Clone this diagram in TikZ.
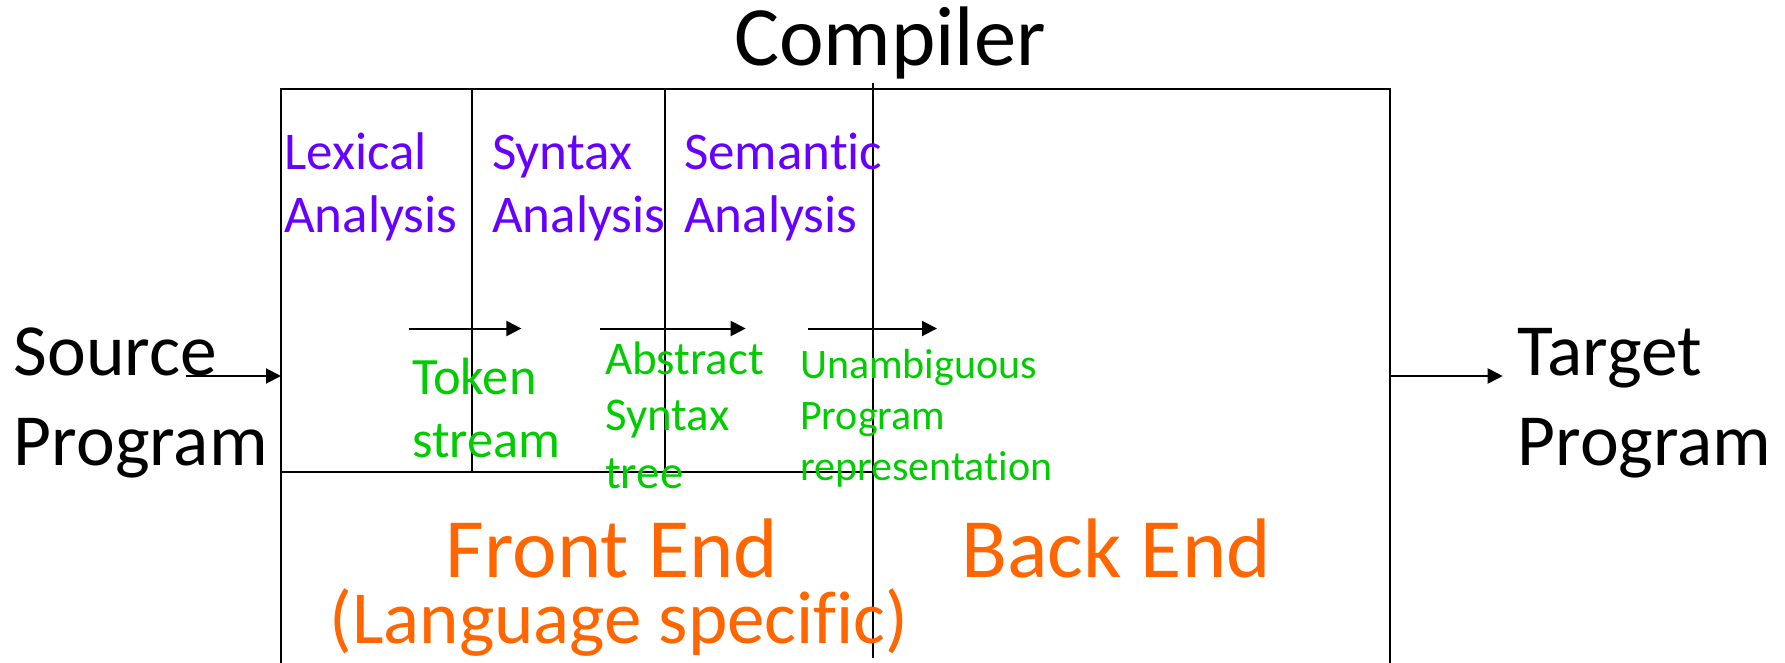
\documentclass[tikz,border=0pt]{standalone}
\usepackage{fontspec}
\setmainfont{Carlito}[RawFeature={-liga}]
\usetikzlibrary{arrows.meta}
\definecolor{phase}{RGB}{102,0,255}
\definecolor{inter}{RGB}{0,204,0}
\definecolor{endc}{RGB}{255,102,0}
\newcommand{\fsz}[1]{\fontsize{#1}{#1}\selectfont}
\tikzset{
  txt/.style={inner sep=0pt, anchor=base west},
  ctxt/.style={inner sep=0pt, anchor=base},
  boxline/.style={line width=2pt, black},
  flow/.style={line width=2pt, -{Triangle[length=15pt,width=15pt]}},
}
\begin{document}
\begin{tikzpicture}[x=1pt,y=-1pt]
\useasboundingbox (0,0) rectangle (1785,663);
% frame
\draw[boxline] (281,663) -- (281,88.8) -- (1390,88.8) -- (1390,663);
\draw[boxline] (472.4,88.8) -- (472.4,472);
\draw[boxline] (664.8,88.8) -- (664.8,472);
\draw[boxline] (872.8,83) -- (872.8,658);
\draw[boxline] (281,472) -- (872.8,472);
% title
\node[ctxt, font=\fsz{84.5}] (title) at (890,65.5) {Compiler};
% phases
\node[txt, font=\fsz{53}, text=phase] (lex1) at (284,170) {Lexical};
\node[txt, font=\fsz{53}, text=phase] (lex2) at (284,233) {Analysis};
\node[txt, font=\fsz{53}, text=phase] (syn1) at (492,170) {Syntax};
\node[txt, font=\fsz{53}, text=phase] (syn2) at (492,233) {Analysis};
\node[txt, font=\fsz{53}, text=phase] (sem1) at (684,170) {Semantic};
\node[txt, font=\fsz{53}, text=phase] (sem2) at (684,233) {Analysis};
% intermediate arrows
\coordinate (a1s) at (408.7,328.5); \coordinate (a1e) at (521.4,328.5);
\coordinate (a2s) at (600,328.5);   \coordinate (a2e) at (745.7,328.5);
\coordinate (a3s) at (808,328.5);   \coordinate (a3e) at (937,328.5);
\draw[flow] (a1s) -- (a1e);
\draw[flow] (a2s) -- (a2e);
\draw[flow] (a3s) -- (a3e);
% intermediate labels
\node[txt, font=\fsz{52.5}, text=inter] (tok1) at (412,394) {Token};
\node[txt, font=\fsz{52.5}, text=inter] (tok2) at (412,457.5) {stream};
\node[txt, font=\fsz{47}, text=inter] (ast1) at (605,374) {Abstract};
\node[txt, font=\fsz{47}, text=inter] (ast2) at (605,430) {Syntax};
\node[txt, font=\fsz{47}, text=inter] (ast3) at (605,488) {tree};
\node[txt, font=\fsz{42}, text=inter] (upr1) at (800,378) {Unambiguous};
\node[txt, font=\fsz{42}, text=inter] (upr2) at (800,429) {Program};
\node[txt, font=\fsz{42}, text=inter] (upr3) at (800,480) {representation};
% ends
\node[ctxt, font=\fsz{84.5}, text=endc] (fe) at (612,577) {Front End};
\node[ctxt, font=\fsz{75}, text=endc] (ls) at (619,643) {(Language specific)};
\node[ctxt, font=\fsz{84.5}, text=endc] (be) at (1116,577) {Back End};
% source / target
\node[txt, font=\fsz{73.5}] (src1) at (13.7,375.5) {Source};
\node[txt, font=\fsz{73.5}] (src2) at (13.7,465) {Program};
\node[txt, font=\fsz{73.5}] (tgt1) at (1517.5,375.5) {Target};
\node[txt, font=\fsz{73.5}] (tgt2) at (1517.5,465) {Program};
\coordinate (inS) at (185.6,376); \coordinate (inE) at (281,376);
\coordinate (outS) at (1390,376); \coordinate (outE) at (1502.7,376);
\draw[flow] (inS) -- (inE);
\draw[flow] (outS) -- (outE);
\end{tikzpicture}
\end{document}
